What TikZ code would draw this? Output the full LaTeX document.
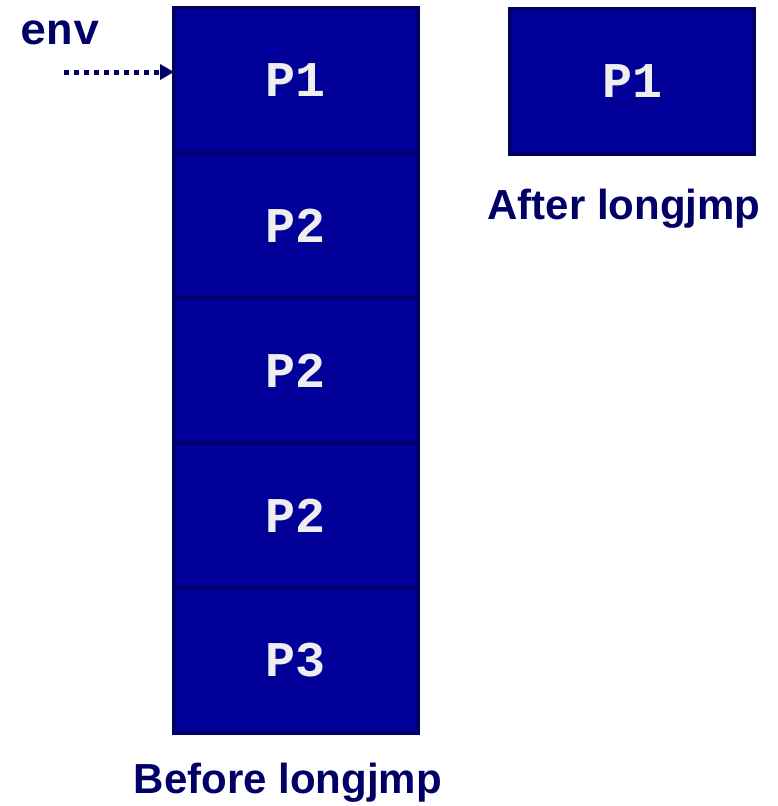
\documentclass[tikz,border=0pt]{standalone}
\usepackage{fontspec}
\setmainfont{Liberation Sans}
\setmonofont{Liberation Mono}
\usepackage{xcolor}
\usepackage{tikz}
\usetikzlibrary{arrows.meta, positioning}

\definecolor{stackblue}{HTML}{000099}
\definecolor{frameblue}{HTML}{000066}
\definecolor{labelblue}{HTML}{000066}
\definecolor{boxtext}{HTML}{EEEEEE}

\begin{document}
\begin{tikzpicture}[
    x=1pt, y=-1pt,
    frame/.style={rectangle, draw=frameblue, fill=stackblue, line width=4pt,
                  minimum width=244pt, minimum height=145pt, inner sep=0pt,
                  outer sep=0pt, text=boxtext,
                  font=\fontsize{50}{50}\selectfont\ttfamily\bfseries},
    caption/.style={font=\fontsize{42}{42}\selectfont\bfseries, text=labelblue},
    ptr/.style={-{Triangle[length=14pt, width=15pt]}, line width=5pt,
                dash pattern=on 5pt off 5pt, draw=labelblue},
]
    \useasboundingbox (0,0) rectangle (778,806);

    % Stack before the jump
    \node[frame] (p1) at (296,80.5) {P1};
    \node[frame, below=0pt of p1] (p2a) {P2};
    \node[frame, below=0pt of p2a] (p2b) {P2};
    \node[frame, below=0pt of p2b] (p2c) {P2};
    \node[frame, below=0pt of p2c] (p3) {P3};
    \node[caption] (before) at (288,783) {Before longjmp};

    % Stack after the jump
    \node[frame] (p1after) at (632,81.5) {P1};
    \node[caption] (after) at (624,209) {After longjmp};

    % env pointer
    \node[font=\fontsize{44}{44}\selectfont\ttfamily\bfseries, text=labelblue]
        (env) at (60,33) {env};
    \coordinate (envtail) at (64,72);
    \draw[ptr] (envtail) -- (envtail -| p1.west);
\end{tikzpicture}
\end{document}
